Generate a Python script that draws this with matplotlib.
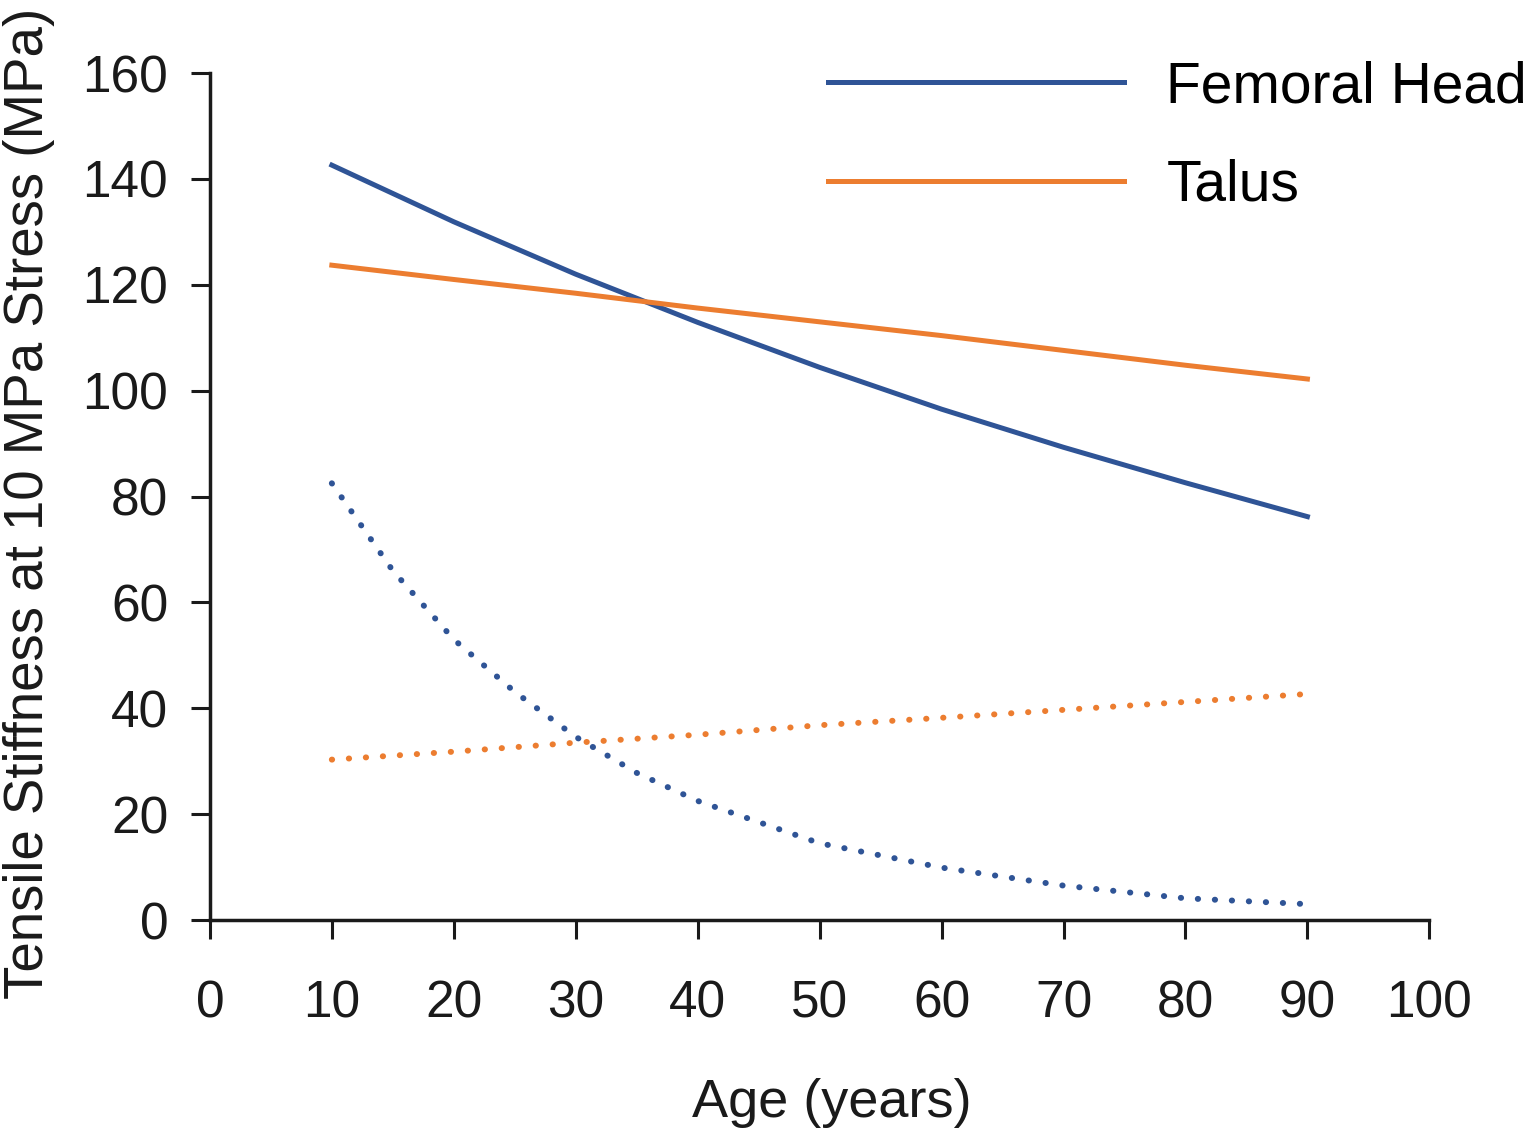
import matplotlib.pyplot as plt

plt.rcParams['font.family'] = ['Liberation Sans', 'DejaVu Sans']

# values
ages = [10, 20, 30, 40, 50, 60, 70, 80, 90]
femoral_solid = [142.6, 131.9, 122.0, 112.9, 104.4, 96.5, 89.3, 82.6, 76.2]
talus_solid = [123.7, 121.0, 118.4, 115.6, 113.0, 110.4, 107.6, 104.8, 102.2]

ages_fem_dot = [10, 15, 20, 25, 30, 35, 40, 50, 60, 70, 80, 90]
femoral_dot = [82.5, 66.0, 53.0, 43.1, 34.6, 27.8, 22.5, 14.5, 9.9, 6.5, 4.1, 3.0]
talus_dot = [30.3, 31.8, 33.5, 35.0, 36.8, 38.2, 39.7, 41.2, 42.7]

x_ticks = [0, 10, 20, 30, 40, 50, 60, 70, 80, 90, 100]
y_ticks = [0, 20, 40, 60, 80, 100, 120, 140, 160]

blue = '#2f5496'
orange = '#ec7d30'
ink = '#1a1a1a'

fig = plt.figure(figsize=(15.32, 11.34), dpi=100)
ax = fig.add_axes([0.137, 0.1887, 0.796, 0.7469])

ax.plot(ages, femoral_solid, color=blue, linewidth=3.6, label='Femoral Head')
ax.plot(ages, talus_solid, color=orange, linewidth=3.6, label='Talus')
ax.plot(ages_fem_dot, femoral_dot, color=blue, linewidth=4.3,
        linestyle=(0, (0.05, 2.8)), dash_capstyle='round')
ax.plot(ages, talus_dot, color=orange, linewidth=4.3,
        linestyle=(0, (0.05, 2.8)), dash_capstyle='round')

ax.set_xlim(0, 100)
ax.set_ylim(0, 160)
ax.set_xticks(x_ticks)
ax.set_yticks(y_ticks)

for s in ['top', 'right']:
    ax.spines[s].set_visible(False)
for s in ['left', 'bottom']:
    ax.spines[s].set_linewidth(2.5)
    ax.spines[s].set_color(ink)

ax.tick_params(axis='both', direction='out', length=14, width=2.2,
               colors=ink, labelsize=37)
ax.tick_params(axis='y', pad=16)
ax.tick_params(axis='x', pad=29)

ax.set_xlabel('Age (years)', fontsize=39, color=ink)
ax.xaxis.set_label_coords(0.51, -0.186)
ax.set_ylabel('Tensile Stiffness at 10 MPa Stress (MPa)', fontsize=39.3, color=ink)
ax.yaxis.set_label_coords(-0.127, 0.492)

ax.legend(loc='upper left', bbox_to_anchor=(0.5066, 1.015), frameon=False,
          fontsize=41, handlelength=5.2, handletextpad=0.75,
          labelspacing=0.78, borderpad=0, borderaxespad=0)

plt.savefig('out.png', dpi=100)
